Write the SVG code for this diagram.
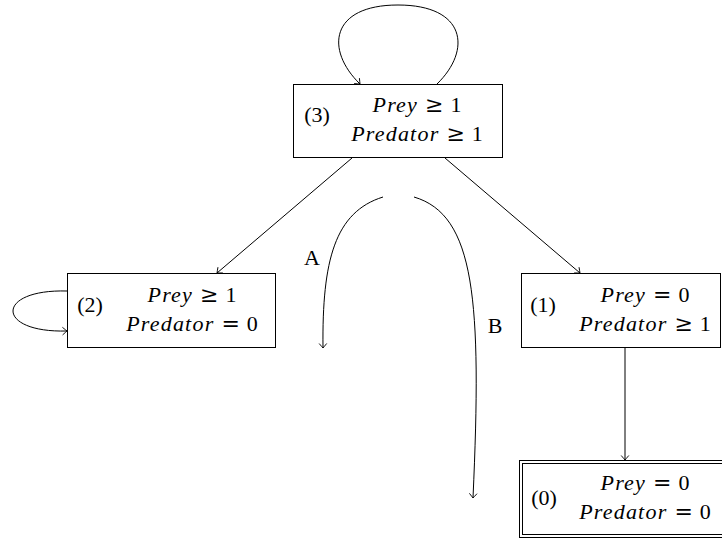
<svg xmlns="http://www.w3.org/2000/svg" width="722" height="538" viewBox="0 0 722 538">
<style>
text{font-family:"Liberation Serif","DejaVu Serif",serif;font-size:22px;fill:#000}
.m{text-anchor:middle}
.v{font-style:italic;letter-spacing:1.2px}
.r{font-family:"DejaVu Serif","Liberation Serif",serif;font-size:22px}
.box{fill:#fff;stroke:#000;stroke-width:1}
.e{fill:none;stroke:#000;stroke-width:1;marker-end:url(#ah)}
</style>
<defs>
<marker id="ah" viewBox="-6 -5 8 10" refX="0" refY="0" markerWidth="8" markerHeight="10" markerUnits="userSpaceOnUse" orient="auto">
<path d="M-4.5,-3.8 Q-1.2,-1 0,0 Q-1.2,1 -4.5,3.8" fill="none" stroke="#000" stroke-width="0.9"/>
</marker>
</defs>
<rect width="722" height="538" fill="#fff"/>
<g id="connectors">
<path class="e" d="M437,84 C472,50 466,5 398,5 C330,5 325,50 360,84"/>
<path class="e" d="M67,291 C-5,289 -5,333 67,331"/>
<path class="e" d="M352,158 L217,273"/>
<path class="e" d="M445,158 L580,273"/>
<path class="e" d="M625,348 L625,460"/>
<path class="e" d="M383,197 C335,212 322,260 323,348"/>
<path class="e" d="M414,197 C475,215 482,300 473,498"/>
<text x="312" y="265" class="m">A</text>
<text x="495" y="333" class="m">B</text>
</g>
<g id="node3">
<rect class="box" x="293.5" y="84.5" width="209" height="73"/>
<text x="317" y="122" class="m">(3)</text>
<text x="417" y="112" class="m"><tspan class="v">Prey</tspan><tspan class="r"> ≥ </tspan>1</text>
<text x="417" y="141" class="m"><tspan class="v">Predator</tspan><tspan class="r"> ≥ </tspan>1</text>
</g>
<g id="node2">
<rect class="box" x="67.5" y="273.5" width="208" height="74"/>
<text x="90" y="312" class="m">(2)</text>
<text x="192" y="302" class="m"><tspan class="v">Prey</tspan><tspan class="r"> ≥ </tspan>1</text>
<text x="192" y="331" class="m"><tspan class="v">Predator</tspan><tspan class="r"> = </tspan>0</text>
</g>
<g id="node1">
<rect class="box" x="521.5" y="273.5" width="199" height="74"/>
<text x="543" y="312" class="m">(1)</text>
<text x="645" y="302" class="m"><tspan class="v">Prey</tspan><tspan class="r"> = </tspan>0</text>
<text x="645" y="331" class="m"><tspan class="v">Predator</tspan><tspan class="r"> ≥ </tspan>1</text>
</g>
<g id="node0">
<rect class="box" x="519.5" y="460.5" width="220" height="77"/>
<rect class="box" x="522.5" y="463.5" width="214" height="71"/>
<text x="544" y="505" class="m">(0)</text>
<text x="645" y="490" class="m"><tspan class="v">Prey</tspan><tspan class="r"> = </tspan>0</text>
<text x="645" y="519" class="m"><tspan class="v">Predator</tspan><tspan class="r"> = </tspan>0</text>
</g>
</svg>
